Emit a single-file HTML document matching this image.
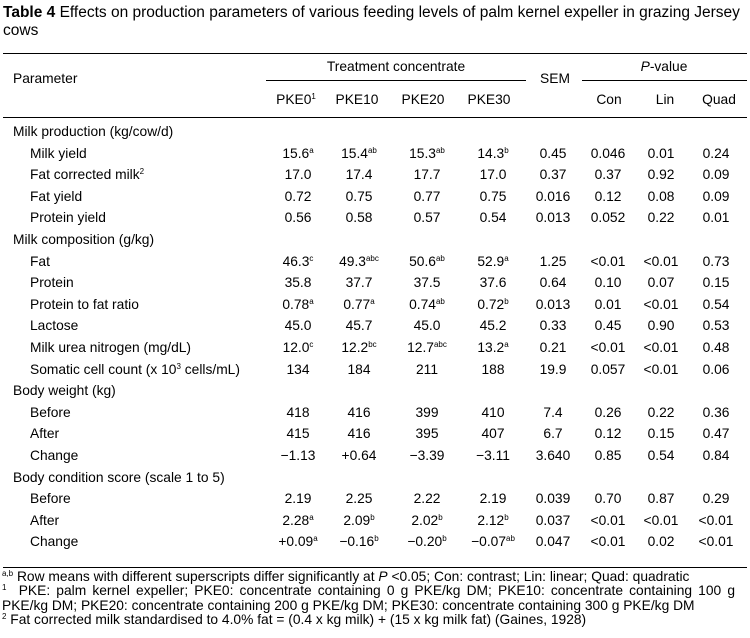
<!DOCTYPE html>
<html><head><meta charset="utf-8"><style>
body{margin:0;background:#fff;}
#t{position:relative;width:750px;height:638px;overflow:hidden;font-family:"Liberation Sans",Arial,sans-serif;font-size:13.8px;color:#000;}
.a{position:absolute;white-space:nowrap;line-height:16px;}
.c{transform:translateX(-50%);}
sup{font-size:8px;line-height:0;vertical-align:5px;}
.r{position:absolute;height:1px;background:#000;}
.fn{position:absolute;left:2px;width:733px;font-size:13.8px;line-height:15px;white-space:nowrap;}
</style></head><body>
<div id="t">
<div class="a" style="left:3px;top:4px;font-size:15.5px;line-height:18px"><b>Table 4</b> Effects on production parameters of various feeding levels of palm kernel expeller in grazing Jersey</div>
<div class="a" style="left:3px;top:22px;font-size:15.5px;line-height:18px">cows</div>
<div class="r" style="left:3px;width:744px;top:53px"></div>
<div class="r" style="left:266px;width:260px;top:80px"></div>
<div class="r" style="left:582px;width:165px;top:80px"></div>
<div class="r" style="left:3px;width:744px;top:117px"></div>
<div class="r" style="left:3px;width:744px;top:567px"></div>
<div class="a" style="left:13px;top:71px">Parameter</div>
<div class="a c" style="left:396px;top:59px">Treatment concentrate</div>
<div class="a c" style="left:555px;top:71px">SEM</div>
<div class="a c" style="left:664px;top:59px"><i>P</i>-value</div>
<div class="a c" style="left:296px;top:92px">PKE0<sup>1</sup></div>
<div class="a c" style="left:357px;top:92px">PKE10</div>
<div class="a c" style="left:423px;top:92px">PKE20</div>
<div class="a c" style="left:489px;top:92px">PKE30</div>
<div class="a c" style="left:609px;top:92px">Con</div>
<div class="a c" style="left:665px;top:92px">Lin</div>
<div class="a c" style="left:719px;top:92px">Quad</div>
<div class="fn" style="top:569px"><sup>a,b</sup> Row means with different superscripts differ significantly at <i>P</i> &lt;0.05; Con: contrast; Lin: linear; Quad: quadratic</div>
<div class="fn" style="top:583px;white-space:normal;height:15px;overflow:hidden;text-align:justify;text-align-last:justify"><sup>1</sup>&nbsp; PKE: palm kernel expeller; PKE0: concentrate containing 0 g PKE/kg DM; PKE10: concentrate containing 100 g</div>
<div class="fn" style="top:598px">PKE/kg DM; PKE20: concentrate containing 200 g PKE/kg DM; PKE30: concentrate containing 300 g PKE/kg DM</div>
<div class="fn" style="top:612px"><sup>2</sup> Fat corrected milk standardised to 4.0% fat = (0.4 x kg milk) + (15 x kg milk fat) (Gaines, 1928)</div>
</div>
<script>
const rowLabels=["Milk production (kg/cow/d)","Milk yield","Fat corrected milk<sup>2</sup>","Fat yield","Protein yield","Milk composition (g/kg)","Fat","Protein","Protein to fat ratio","Lactose","Milk urea nitrogen (mg/dL)","Somatic cell count (x 10<sup>3</sup> cells/mL)","Body weight (kg)","Before","After","Change","Body condition score (scale 1 to 5)","Before","After","Change"];
const rowValues=[null,
["15.6<sup>a</sup>","15.4<sup>ab</sup>","15.3<sup>ab</sup>","14.3<sup>b</sup>","0.45","0.046","0.01","0.24"],
["17.0","17.4","17.7","17.0","0.37","0.37","0.92","0.09"],
["0.72","0.75","0.77","0.75","0.016","0.12","0.08","0.09"],
["0.56","0.58","0.57","0.54","0.013","0.052","0.22","0.01"],
null,
["46.3<sup>c</sup>","49.3<sup>abc</sup>","50.6<sup>ab</sup>","52.9<sup>a</sup>","1.25","&lt;0.01","&lt;0.01","0.73"],
["35.8","37.7","37.5","37.6","0.64","0.10","0.07","0.15"],
["0.78<sup>a</sup>","0.77<sup>a</sup>","0.74<sup>ab</sup>","0.72<sup>b</sup>","0.013","0.01","&lt;0.01","0.54"],
["45.0","45.7","45.0","45.2","0.33","0.45","0.90","0.53"],
["12.0<sup>c</sup>","12.2<sup>bc</sup>","12.7<sup>abc</sup>","13.2<sup>a</sup>","0.21","&lt;0.01","&lt;0.01","0.48"],
["134","184","211","188","19.9","0.057","&lt;0.01","0.06"],
null,
["418","416","399","410","7.4","0.26","0.22","0.36"],
["415","416","395","407","6.7","0.12","0.15","0.47"],
["&minus;1.13","+0.64","&minus;3.39","&minus;3.11","3.640","0.85","0.54","0.84"],
null,
["2.19","2.25","2.22","2.19","0.039","0.70","0.87","0.29"],
["2.28<sup>a</sup>","2.09<sup>b</sup>","2.02<sup>b</sup>","2.12<sup>b</sup>","0.037","&lt;0.01","&lt;0.01","&lt;0.01"],
["+0.09<sup>a</sup>","&minus;0.16<sup>b</sup>","&minus;0.20<sup>b</sup>","&minus;0.07<sup>ab</sup>","0.047","&lt;0.01","0.02","&lt;0.01"]];
const colX=[298,359,427,493,553,608,661,716];
const t=document.getElementById('t');
rowLabels.forEach((lab,i)=>{
  const y=124+i*21.6;
  const d=document.createElement('div');
  d.className='a';d.style.left=(rowValues[i]?30:13)+'px';d.style.top=y+'px';d.innerHTML=lab;
  
  
  t.appendChild(d);
  if(rowValues[i]) rowValues[i].forEach((v,j)=>{
    const c=document.createElement('div');
    c.className='a c';c.style.left=colX[j]+'px';c.style.top=y+'px';c.innerHTML=v;
    
    
    t.appendChild(c);
  });
});
</script>
</body></html>
